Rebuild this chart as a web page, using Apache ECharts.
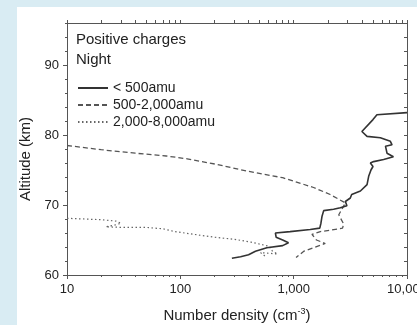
<!DOCTYPE html>
<html>
<head>
<meta charset="utf-8">
<script src="https://cdn.jsdelivr.net/npm/echarts@6/dist/echarts.min.js"></script>
<style>
  html, body { margin: 0; padding: 0; background: #d9ecf3; }
  #panel { position: absolute; left: 17px; top: 7px; right: 0; bottom: 0; background: #ffffff; }
  #chart { position: absolute; left: 0; top: 0; width: 417px; height: 325px; }
</style>
</head>
<body>
<div id="panel"></div>
<div id="chart"></div>
<script>
// ---- data (number density in cm^-3, altitude in km) ----
var smallDensity = [10000, 5430, 5010, 4000, 3930, 4440, 5820, 7130, 7380, 6460, 6660, 7590, 6220, 5080, 4750, 5010,
  4810, 4590, 4440, 3880, 3250, 3160, 2860, 2950, 2580, 2250, 1840, 1780, 1740, 1700, 1400, 930, 690, 700, 800, 900, 800, 580, 460, 400, 340, 285];
var smallAltitude = [83.2, 82.9, 82.2, 80.5, 80.3, 79.8, 79.6, 79.1, 78.6, 78.4, 77.4, 76.9, 76.5, 76.2, 76.0, 75.5,
  75.0, 74.1, 72.9, 72.0, 71.5, 71.0, 70.5, 69.9, 69.6, 69.4, 69.2, 68.4, 67.4, 66.7, 66.5, 66.2, 66.0, 65.4, 65.0, 64.6, 64.2, 63.9, 63.4, 62.9, 62.6, 62.4];

var mediumDensity = [10, 20, 40, 75, 115, 210, 400, 800, 1500, 2100, 2860, 2500, 2760, 2700, 2100, 1720, 1450, 1590, 1900, 1500, 1230, 1050];
var mediumAltitude = [78.5, 77.9, 77.4, 77.0, 76.6, 75.8, 74.8, 73.9, 72.5, 71.5, 70.3, 68.6, 67.3, 66.7, 66.4, 66.2, 65.8, 65.0, 64.5, 63.9, 63.4, 62.5];

var largeDensity = [10, 20, 27, 30, 26, 22, 30, 50, 70, 90, 120, 200, 300, 420, 610, 650, 720, 700, 510, 580];
var largeAltitude = [68.1, 67.9, 67.7, 67.4, 67.1, 66.9, 66.8, 66.8, 66.6, 66.2, 65.9, 65.4, 65.1, 64.7, 64.1, 63.4, 63.0, 62.8, 63.2, 62.5];

var seriesNames = ['< 500amu', '500-2,000amu', '2,000-8,000amu'];
var xMajorTicks = [10, 100, 1000, 10000];
var xMinorTicks = [20, 30, 40, 50, 60, 70, 80, 90, 200, 300, 400, 500, 600, 700, 800, 900, 2000, 3000, 4000, 5000, 6000, 7000, 8000, 9000];
var yLabelValues = [60, 70, 80, 90];
var yTickValues = [60, 62, 64, 66, 68, 70, 72, 74, 76, 78, 80, 82, 84, 86, 88, 90, 92, 94, 96];

function zip(xs, ys) { return xs.map(function (v, i) { return [v, ys[i]]; }); }
function fmtThousands(v) { return Math.round(v).toString().replace(/\B(?=(\d{3})+(?!\d))/g, ','); }

var FONT = '"Liberation Sans", Arial, sans-serif';
var AX = '#555555';
var TXT = '#222222';

var chart = echarts.init(document.getElementById('chart'), null, { renderer: 'canvas' });

var logBase = { type: 'log', logBase: 10, min: 10, max: 10000, gridIndex: 0, splitLine: { show: false } };

var option = {
  backgroundColor: 'transparent',
  animation: false,
  textStyle: { fontFamily: FONT },
  title: {
    text: 'Positive charges\nNight',
    left: 76, top: 30, padding: 0,
    textStyle: { fontFamily: FONT, fontSize: 15, fontWeight: 'normal', color: TXT, lineHeight: 20 }
  },
  legend: {
    orient: 'vertical', left: 77, top: 80, padding: 0,
    itemWidth: 30, itemHeight: 12, itemGap: 1,
    itemStyle: { opacity: 0 },
    textStyle: { fontFamily: FONT, fontSize: 14, color: TXT, lineHeight: 16 },
    data: seriesNames
  },
  grid: { left: 67, top: 23, width: 340, height: 252, containLabel: false, outerBoundsMode: 'none' },
  xAxis: [
    Object.assign({}, logBase, {
      position: 'bottom',
      name: 'Number density (cm{sup|-3})',
      nameLocation: 'middle', nameGap: 32,
      nameTextStyle: { fontFamily: FONT, fontSize: 15, color: TXT,
        rich: { sup: { fontFamily: FONT, fontSize: 9, color: TXT, verticalAlign: 'top', padding: [0, 0, 8, 0] } } },
      axisLine: { show: true, lineStyle: { color: AX, width: 1 } },
      axisTick: { show: true, inside: false, length: 4, lineStyle: { color: AX }, customValues: xMajorTicks },
      axisLabel: { show: true, margin: 8, fontFamily: FONT, fontSize: 13, color: TXT,
        customValues: xMajorTicks, formatter: fmtThousands, hideOverlap: false }
    }),
    Object.assign({}, logBase, {
      position: 'bottom',
      axisLine: { show: false },
      axisTick: { show: true, inside: false, length: 2, lineStyle: { color: AX }, customValues: xMinorTicks },
      axisLabel: { show: false }
    }),
    Object.assign({}, logBase, {
      position: 'top',
      axisLine: { show: true, lineStyle: { color: AX, width: 1 } },
      axisTick: { show: true, inside: false, length: 3, lineStyle: { color: AX }, customValues: xMajorTicks.concat(xMinorTicks) },
      axisLabel: { show: false }
    })
  ],
  yAxis: [
    {
      type: 'value', min: 60, max: 96, interval: 10, position: 'left',
      name: 'Altitude (km)', nameLocation: 'middle', nameGap: 29,
      nameTextStyle: { fontFamily: FONT, fontSize: 15, color: TXT, padding: [0, 20, 0, 0] },
      splitLine: { show: false },
      axisLine: { show: true, lineStyle: { color: AX, width: 1 } },
      axisTick: { show: true, inside: false, length: 4, lineStyle: { color: AX }, customValues: yLabelValues },
      axisLabel: { show: true, margin: 8, fontFamily: FONT, fontSize: 13, color: TXT, customValues: yLabelValues }
    },
    {
      type: 'value', min: 60, max: 96, interval: 2, position: 'left',
      splitLine: { show: false },
      axisLine: { show: false },
      axisTick: { show: true, inside: false, length: 2, lineStyle: { color: AX }, customValues: yTickValues },
      axisLabel: { show: false }
    },
    {
      type: 'value', min: 60, max: 96, interval: 2, position: 'right',
      splitLine: { show: false },
      axisLine: { show: true, lineStyle: { color: AX, width: 1 } },
      axisTick: { show: true, inside: true, length: 3, lineStyle: { color: AX }, customValues: yTickValues },
      axisLabel: { show: false }
    }
  ],
  series: [
    {
      name: seriesNames[0], type: 'line', xAxisIndex: 0, yAxisIndex: 0,
      symbol: 'none', data: zip(smallDensity, smallAltitude),
      lineStyle: { color: '#333333', width: 1.6, type: 'solid' },
      itemStyle: { color: '#333333' }, z: 5
    },
    {
      name: seriesNames[1], type: 'line', xAxisIndex: 0, yAxisIndex: 0,
      symbol: 'none', data: zip(mediumDensity, mediumAltitude),
      lineStyle: { color: '#555555', width: 1.3, type: [5, 3] },
      itemStyle: { color: '#555555' }, z: 4
    },
    {
      name: seriesNames[2], type: 'line', xAxisIndex: 0, yAxisIndex: 0,
      symbol: 'none', data: zip(largeDensity, largeAltitude),
      lineStyle: { color: '#666666', width: 1.2, type: [1.5, 2.5] },
      itemStyle: { color: '#666666' }, z: 3
    }
  ]
};
chart.setOption(option);
</script>
</body>
</html>
